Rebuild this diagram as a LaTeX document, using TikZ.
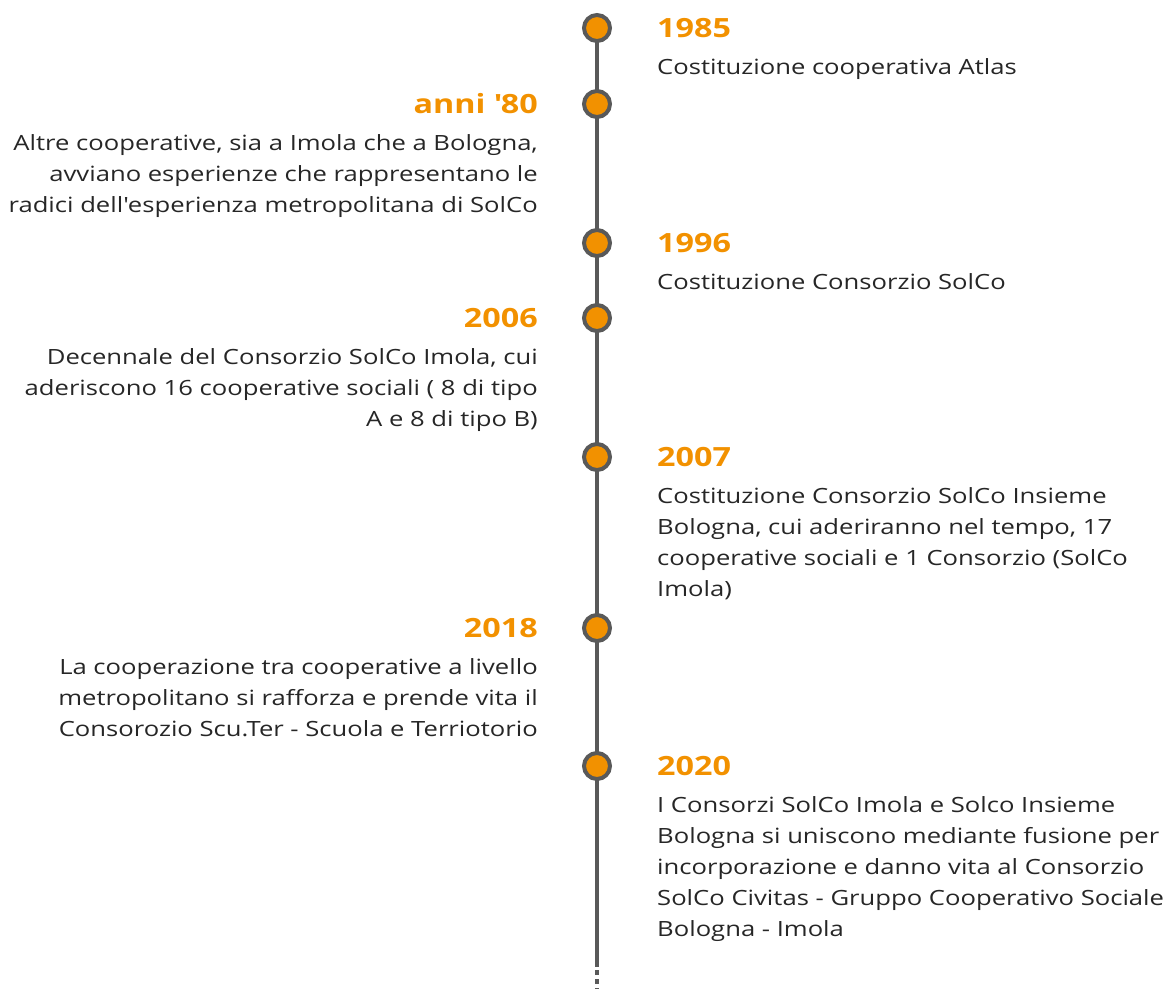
\documentclass[tikz,border=0pt]{standalone}
\usepackage{fontspec}
\setmainfont{Open Sans}[FakeStretch=1.22]
\definecolor{tlorange}{HTML}{F29100}
\definecolor{tlgray}{HTML}{595959}
\definecolor{tltext}{HTML}{262626}
\tikzset{
  dot/.style={circle, draw=tlgray, fill=tlorange, line width=4pt, minimum size=26pt, inner sep=0pt},
  year/.style={font=\fontsize{26.5}{30}\selectfont\bfseries, text=tlorange, inner sep=0pt},
  note/.style={font=\fontsize{21}{31}\selectfont, text=tltext, inner sep=0pt},
}
\begin{document}
\begin{tikzpicture}[x=1pt, y=-1pt]
  \useasboundingbox (0,0) rectangle (1173,989);
  %time line
  \coordinate (lstart) at (597,28);
  \coordinate (lsolid) at (597,967);
  \coordinate (ldash) at (597,970);
  \coordinate (lend) at (597,989);
  \draw[tlgray, line width=4.5pt] (lstart) -- (lsolid);
  \draw[tlgray, line width=4.5pt, dash pattern=on 5pt off 4pt] (ldash) -- (lend);

  %events on the right
  \node[dot] (d1985) at (597,28) {};
  \node[year, anchor=base west] (y1985) at (657,37.5) {1985};
  \node[note, anchor=north west, align=left] (t1985) at (657,58) {Costituzione cooperativa Atlas};

  \node[dot] (d1996) at (597,243) {};
  \node[year, anchor=base west] (y1996) at (657,252.5) {1996};
  \node[note, anchor=north west, align=left] (t1996) at (657,273) {Costituzione Consorzio SolCo};

  \node[dot] (d2007) at (597,457) {};
  \node[year, anchor=base west] (y2007) at (657,466.5) {2007};
  \node[note, anchor=north west, align=left] (t2007) at (657,487) {Costituzione Consorzio SolCo Insieme\\
    Bologna, cui aderiranno nel tempo, 17\\
    cooperative sociali e 1 Consorzio (SolCo\\
    Imola)};

  \node[dot] (d2020) at (597,766) {};
  \node[year, anchor=base west] (y2020) at (657,775.5) {2020};
  \node[note, anchor=north west, align=left] (t2020) at (657,796) {I Consorzi SolCo Imola e Solco Insieme\\
    Bologna si uniscono mediante fusione per\\
    incorporazione e danno vita al Consorzio\\
    SolCo Civitas - Gruppo Cooperativo Sociale\\
    Bologna - Imola};

  %events on the left
  \node[dot] (d80) at (597,104) {};
  \node[year, anchor=base east] (y80) at (538,113.5) {anni \textquotesingle80};
  \node[note, anchor=north east, align=right] (t80) at (538,134) {Altre cooperative, sia a Imola che a Bologna,\\
    avviano esperienze che rappresentano le\\
    radici dell\textquotesingle esperienza metropolitana di SolCo};

  \node[dot] (d2006) at (597,318) {};
  \node[year, anchor=base east] (y2006) at (538,327.5) {2006};
  \node[note, anchor=north east, align=right] (t2006) at (538,348) {Decennale del Consorzio SolCo Imola, cui\\
    aderiscono 16 cooperative sociali ( 8 di tipo\\
    A e 8 di tipo B)};

  \node[dot] (d2018) at (597,628) {};
  \node[year, anchor=base east] (y2018) at (538,637.5) {2018};
  \node[note, anchor=north east, align=right] (t2018) at (538,658) {La cooperazione tra cooperative a livello\\
    metropolitano si rafforza e prende vita il\\
    Consorozio Scu.Ter - Scuola e Terriotorio};
\end{tikzpicture}
\end{document}
